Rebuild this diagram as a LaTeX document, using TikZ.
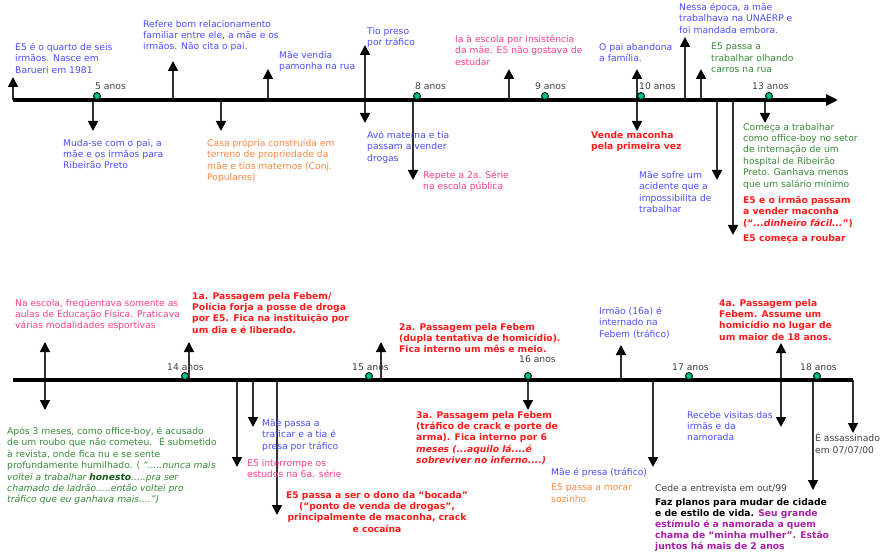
\documentclass[tikz,border=0pt]{standalone}
\usepackage{fontspec}
\setmainfont{DejaVu Sans}
\usetikzlibrary{arrows.meta}

\definecolor{tblue}{RGB}{77,77,250}
\definecolor{tpink}{RGB}{250,64,140}
\definecolor{torange}{RGB}{255,136,64}
\definecolor{tgreen}{RGB}{56,140,56}
\definecolor{tdkgreen}{RGB}{20,90,20}
\definecolor{tred}{RGB}{255,26,26}
\definecolor{tpurple}{RGB}{170,32,170}
\definecolor{tgray}{RGB}{64,64,64}
\definecolor{shaft}{RGB}{50,50,50}
\definecolor{dotfill}{RGB}{0,190,140}

\tikzset{
  lbl/.style={font=\fontsize{9.2}{11.4}\selectfont, align=left, inner sep=0pt, anchor=north west},
  lblb/.style={lbl, font=\fontsize{9.2}{11.4}\selectfont\bfseries},
  age/.style={font=\fontsize{9.2}{11}\selectfont, text=tgray, inner sep=0pt, anchor=base west},
  axisline/.style={line width=4pt, draw=black},
  tip/.tip={Triangle[width=10pt,length=10pt,color=black]},
  evarrow/.style={draw=shaft, line width=1.5pt, -tip},
  evboth/.style={draw=shaft, line width=1.5pt, tip-tip},
  milestone/.style={circle, draw=black, line width=0.9pt, fill=dotfill, minimum size=7pt, inner sep=0pt},
}

\begin{document}
\begin{tikzpicture}[x=1pt,y=-1pt]
\fill[white] (0,0) rectangle (880,553);
\useasboundingbox (0,0) rectangle (880,553);

% ---------- upper time line ----------
\coordinate (axA-s) at (13,100);
\coordinate (axA-e) at (838,100);

% single-headed event arrows (name/x/from y/to y)
\foreach \n/\x/\ya/\yb in {
  u1/13/100/77, u2/173/100/61, u3/268/100/69, u4/509/100/69,
  u5/685/100/37, u6/701/100/69,
  d1/93/100/131, d2/221/100/131, d3/413/100/180, d4/717/100/180,
  d5/733/100/235, d6/765/100/123}
{
  \coordinate (\n-a) at (\x,\ya);
  \coordinate (\n-b) at (\x,\yb);
  \draw[evarrow] (\n-a) -- (\n-b);
}
% double-headed event arrows
\foreach \n/\x/\ya/\yb in {w1/365/45/123, w2/637/69/131}
{
  \coordinate (\n-a) at (\x,\ya);
  \coordinate (\n-b) at (\x,\yb);
  \draw[evboth] (\n-a) -- (\n-b);
}

\draw[axisline, -{Triangle[width=11pt,length=12pt]}] (axA-s) -- (axA-e);

\node[milestone] (m5)  at (97,96) {};
\node[milestone] (m8)  at (417,96) {};
\node[milestone] (m9)  at (545,96) {};
\node[milestone] (m10) at (641,96) {};
\node[milestone] (m13) at (769,96) {};
\node[age] (l5)  at (95,90)  {5 anos};
\node[age] (l8)  at (415,90) {8 anos};
\node[age] (l9)  at (535,90) {9 anos};
\node[age] (l10) at (639,90) {10 anos};
\node[age] (l13) at (752,90) {13 anos};

\node[lbl, text=tblue] (t1) at (15,43) {E5 é o quarto de seis\\irmãos. Nasce em\\Barueri em 1981};
\node[lbl, text=tblue] (t2) at (143,20) {Refere bom relacionamento\\familiar entre ele, a mãe e os\\irmãos. Não cita o pai.};
\node[lbl, text=tblue] (t3) at (279,51) {Mãe vendia\\pamonha na rua};
\node[lbl, text=tblue] (t4) at (367,27) {Tio preso\\por tráfico};
\node[lbl, text=tpink] (t5) at (455,35) {Ia à escola por insistência\\da mãe. E5 não gostava de\\estudar};
\node[lbl, text=tblue] (t6) at (599,43) {O pai abandona\\a família.};
\node[lbl, text=tblue] (t7) at (679,3) {Nessa época, a mãe\\trabalhava na UNAERP e\\foi mandada embora.};
\node[lbl, text=tgreen] (t8) at (711,43) {E5 passa a\\trabalhar olhando\\carros na rua};
\node[lbl, text=tblue] (t9) at (63,139) {Muda-se com o pai, a\\mãe e os irmãos para\\Ribeirão Preto};
\node[lbl, text=torange] (t10) at (207,139) {Casa própria construída em\\terreno de propriedade da\\mãe e tios maternos (Conj.\\Populares)};
\node[lbl, text=tblue] (t11) at (367,131) {Avó materna e tia\\passam a vender\\drogas};
\node[lbl, text=tpink] (t12) at (423,171) {Repete a 2a. Série\\na escola pública};
\node[lblb, text=tred] (t13) at (591,131) {Vende maconha\\pela primeira vez};
\node[lbl, text=tblue] (t14) at (639,171) {Mãe sofre um\\acidente que a\\impossibilita de\\trabalhar};
\node[lbl, text=tgreen] (t15) at (743,123) {Começa a trabalhar\\como office-boy no setor\\de internação de um\\hospital de Ribeirão\\Preto. Ganhava menos\\que um salário mínimo};
\node[lblb, text=tred] (t16) at (743,196) {E5 e o irmão passam\\a vender maconha\\(“\textit{...dinheiro fácil...}”)};
\node[lblb, text=tred] (t17) at (743,234) {E5 começa a roubar};

% ---------- lower time line ----------
\coordinate (axB-s) at (13,380);
\coordinate (axB-e) at (853,380);

\foreach \n/\x/\ya/\yb in {
  p1/189/380/342, p2/381/380/342, p3/621/380/345,
  q1/237/380/467, q2/253/380/427, q3/277/380/515, q4/528/380/410,
  q5/653/380/467, q6/813/380/490}
{
  \coordinate (\n-a) at (\x,\ya);
  \coordinate (\n-b) at (\x,\yb);
  \draw[evarrow] (\n-a) -- (\n-b);
}
\foreach \n/\x/\ya/\yb in {r1/45/342/410, r2/781/343/427}
{
  \coordinate (\n-a) at (\x,\ya);
  \coordinate (\n-b) at (\x,\yb);
  \draw[evboth] (\n-a) -- (\n-b);
}
\coordinate (end-b) at (853,433);
\draw[evarrow] (axB-e) -- (end-b);

\draw[axisline] (axB-s) -- (axB-e);

\node[milestone] (m14) at (185,376) {};
\node[milestone] (m15) at (369,376) {};
\node[milestone] (m16) at (528,376) {};
\node[milestone] (m17) at (689,376) {};
\node[milestone] (m18) at (817,376) {};
\node[age] (l14) at (167,370) {14 anos};
\node[age] (l15) at (352,370) {15 anos};
\node[age] (l16) at (519,362) {16 anos};
\node[age] (l17) at (672,370) {17 anos};
\node[age] (l18) at (800,370) {18 anos};

\node[lbl, text=tpink] (b1) at (15,299) {Na escola, freqüentava somente as\\aulas de Educação Física. Praticava\\várias modalidades esportivas};
\node[lblb, text=tred] (b2) at (192,292) {1a. Passagem pela Febem/\\Polícia forja a posse de droga\\por E5. Fica na instituição por\\um dia e é liberado.};
\node[lblb, text=tred] (b3) at (399,323) {2a. Passagem pela Febem\\(dupla tentativa de homicídio).\\Fica interno um mês e meio.};
\node[lbl, text=tblue] (b4) at (599,307) {Irmão (16a) é\\internado na\\Febem (tráfico)};
\node[lblb, text=tred] (b5) at (719,299) {4a. Passagem pela\\Febem. Assume um\\homicídio no lugar de\\um maior de 18 anos.};
\node[lbl, text=tgreen] (b6) at (7,427) {Após 3 meses, como office-boy, é acusado\\de um roubo que não cometeu.~ É submetido\\à revista, onde fica nu e se sente\\profundamente humilhado. ( \textit{“.....nunca mais}\\\textit{voltei a trabalhar \textbf{\textcolor{tdkgreen}{honesto}}.....pra ser}\\\textit{chamado de ladrão.....então voltei pro}\\\textit{tráfico que eu ganhava mais....”)}};
\node[lbl, text=tblue] (b7) at (262,419) {Mãe passa a\\traficar e a tia é\\presa por tráfico};
\node[lbl, text=tpink] (b8) at (247,459) {E5 interrompe os\\estudos na 6a. série};
\node[lblb, text=tred, align=center, anchor=north] (b9) at (377,491) {E5 passa a ser o dono da “bocada”\\(“ponto de venda de drogas”,\\principalmente de maconha, crack\\e cocaína};
\node[lblb, text=tred] (b10) at (416,411) {3a. Passagem pela Febem\\(tráfico de crack e porte de\\arma). Fica interno por 6\\\textit{meses (...aquilo lá....é}\\\textit{sobreviver no inferno....)}};
\node[lbl, text=tblue] (b11) at (687,411) {Recebe visitas das\\irmãs e da\\namorada};
\node[lbl, text=tgray] (b12) at (815,433) {É assassinado\\em 07/07/00};
\node[lbl, text=tblue] (b13) at (551,468) {Mãe é presa (tráfico)};
\node[lbl, text=torange] (b14) at (551,484) {E5 passa a morar\\sozinho};
\node[lbl, text=tgray] (b15) at (655,484) {Cede a entrevista em out/99};
\node[lblb, text=black, font=\fontsize{9.2}{11.2}\selectfont\bfseries] (b16) at (655,498) {Faz planos para mudar de cidade\\e de estilo de vida. \textcolor{tpurple}{Seu grande}\\\textcolor{tpurple}{estímulo é a namorada a quem}\\\textcolor{tpurple}{chama de “minha mulher”. Estão}\\\textcolor{tpurple}{juntos há mais de 2 anos}};
\end{tikzpicture}
\end{document}
